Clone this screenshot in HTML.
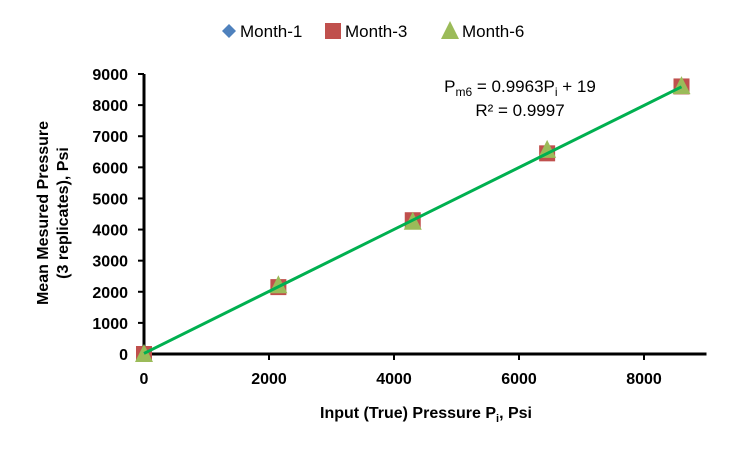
<!DOCTYPE html>
<html><head><meta charset="utf-8"><style>
body{margin:0;background:#fff;font-family:"Liberation Sans",sans-serif}
svg text{font-family:"Liberation Sans",sans-serif}
</style></head><body>
<svg id="c" width="751" height="451"></svg>
<script>
const xVals=[0,2150,4300,6450,8600];
const m1=[0,2160,4280,6470,8590];
const m3=[0,2150,4300,6450,8600];
const m6=[0,2210,4250,6560,8610];
const xTicks=[0,2000,4000,6000,8000];
const yTicks=[0,1000,2000,3000,4000,5000,6000,7000,8000,9000];
const slope=0.9963, intercept=19;
const svg=document.getElementById('c');
const NS='http://www.w3.org/2000/svg';
const X=v=>144+v*0.0625;
const Y=v=>354-v*(280/9000);
function el(t,a,txt){const e=document.createElementNS(NS,t);for(const k in a)e.setAttribute(k,a[k]);if(txt!=null)e.textContent=txt;svg.appendChild(e);return e;}
let e;
e=el('line',{x1:X(0),y1:Y(0),x2:X(9000),y2:Y(0),stroke:'#000','stroke-width':3});

e=el('line',{x1:X(0),y1:Y(0),x2:X(0),y2:Y(9000),stroke:'#000','stroke-width':3});

xTicks.forEach(t=>{
 el('line',{x1:X(t),y1:354,x2:X(t),y2:360,stroke:'#000','stroke-width':2});
 e=el('text',{x:X(t),y:384,'text-anchor':'middle','font-size':16,'font-weight':'bold'},t);
 
});
yTicks.forEach(t=>{
 el('line',{x1:138,y1:Y(t),x2:144,y2:Y(t),stroke:'#000','stroke-width':2});
 e=el('text',{x:128,y:Y(t)+6,'text-anchor':'end','font-size':16,'font-weight':'bold'},t);
 
});
function diamond(x,y){return el('polygon',{points:`${x},${y-7} ${x+7},${y} ${x},${y+7} ${x-7},${y}`,fill:'#4f81bd'});}
function square(x,y){return el('rect',{x:x-8,y:y-8,width:16,height:16,fill:'#c0504d'});}
function tri(x,y){return el('polygon',{points:`${x},${y-10} ${x+9},${y+8} ${x-9},${y+8}`,fill:'#9bbb59'});}
xVals.forEach((v,i)=>{e=diamond(X(v),Y(m1[i]));});
xVals.forEach((v,i)=>{e=square(X(v),Y(m3[i]));});
xVals.forEach((v,i)=>{e=tri(X(v),Y(m6[i]));});
const x0=xVals[0],x1=xVals[xVals.length-1];
e=el('line',{x1:X(x0),y1:Y(slope*x0+intercept),x2:X(x1),y2:Y(slope*x1+intercept),stroke:'#00b050','stroke-width':3});

e=el('text',{x:520,y:92,'text-anchor':'middle','font-size':17});
e.innerHTML='P<tspan font-size="12" dy="4">m6</tspan><tspan dy="-4"> = 0.9963P</tspan><tspan font-size="12" dy="4">i</tspan><tspan dy="-4"> + 19</tspan>';

e=el('text',{x:520,y:116,'text-anchor':'middle','font-size':17},'R² = 0.9997');

e=el('text',{x:0,y:0,'text-anchor':'middle','font-size':16,'font-weight':'bold',transform:'translate(426,418)'});
e.innerHTML='Input (True) Pressure P<tspan font-size="11" dy="4">i</tspan><tspan dy="-4">, Psi</tspan>';

e=el('text',{x:0,y:0,'text-anchor':'middle','font-size':16,'font-weight':'bold',transform:'translate(48,213) rotate(-90)'},'Mean Mesured Pressure');

e=el('text',{x:0,y:0,'text-anchor':'middle','font-size':16,'font-weight':'bold',transform:'translate(68,213) rotate(-90)'},'(3 replicates), Psi');

e=diamond(229,31);
e=el('text',{x:240,y:37,'font-size':17},'Month-1');
e=square(333,31);
e=el('text',{x:345,y:37,'font-size':17},'Month-3');
e=tri(450,31);
e=el('text',{x:462,y:37,'font-size':17},'Month-6');
</script>
</body></html>
